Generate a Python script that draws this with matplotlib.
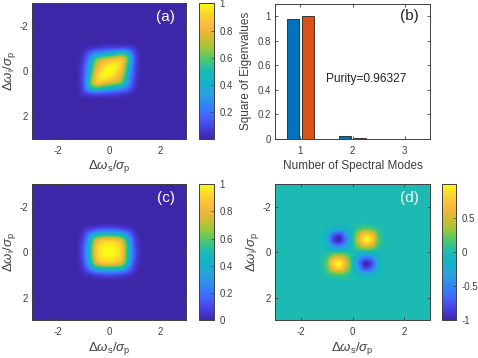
import numpy as np
import matplotlib
matplotlib.use('Agg')
import matplotlib.pyplot as plt
from matplotlib.colors import LinearSegmentedColormap

plt.rcParams.update({
    'font.family': 'Liberation Sans',
    'mathtext.fontset': 'custom',
    'mathtext.rm': 'Liberation Sans',
    'mathtext.it': 'Liberation Sans:italic',
    'mathtext.bf': 'Liberation Sans:bold',
    'axes.unicode_minus': False,
})

# Colour map (MATLAB parula)
parula_colors = ['#3e26a8', '#4740e5', '#4465fd', '#2f87f6', '#2ca1de', '#12b2c9',
                 '#1abab4', '#48c870', '#9ac73c', '#d6bb2f', '#fbb83e', '#f9d32d', '#f9fb15']
parula = LinearSegmentedColormap.from_list('parula', parula_colors, N=256)

# Values read on a 0.25 grid for offsets -1.25 .. 1.25; zero beyond that
jsa = np.array([
    [0, 0, 0, 0, .01, .01, .01, .01, .01, 0, 0],
    [0, .02, .05, .08, .10, .12, .13, .14, .12, .06, 0],
    [0, .05, .18, .30, .37, .43, .48, .55, .42, .12, .01],
    [0, .08, .30, .60, .72, .80, .86, .86, .55, .14, .01],
    [.01, .10, .37, .72, .89, .95, .97, .86, .48, .13, .01],
    [.01, .12, .43, .80, .95, 1.0, .95, .80, .43, .12, .01],
    [.01, .13, .48, .86, .97, .95, .89, .72, .37, .10, .01],
    [.01, .14, .55, .86, .86, .80, .72, .60, .30, .08, 0],
    [.01, .12, .42, .55, .48, .43, .37, .30, .18, .05, 0],
    [0, .06, .12, .14, .13, .12, .10, .08, .05, .02, 0],
    [0, 0, .01, .01, .01, .01, .01, 0, 0, 0, 0],
])
jsa_fit = np.array([
    [0, 0, 0, .01, .01, .01, .01, .01, 0, 0, 0],
    [0, .02, .06, .10, .13, .14, .13, .10, .06, .02, 0],
    [0, .06, .23, .40, .46, .47, .46, .40, .23, .06, 0],
    [.01, .10, .40, .74, .85, .88, .85, .74, .40, .10, .01],
    [.01, .13, .46, .85, .96, .98, .96, .85, .46, .13, .01],
    [.01, .14, .47, .88, .98, 1.0, .98, .88, .47, .14, .01],
    [.01, .13, .46, .85, .96, .98, .96, .85, .46, .13, .01],
    [.01, .10, .40, .74, .85, .88, .85, .74, .40, .10, .01],
    [0, .06, .23, .40, .46, .47, .46, .40, .23, .06, 0],
    [0, .02, .06, .10, .13, .14, .13, .10, .06, .02, 0],
    [0, 0, 0, .01, .01, .01, .01, .01, 0, 0, 0],
])
jsa_diff = np.array([
    [0, 0, -.01, -.02, -.01, 0, .01, .02, .01, 0, 0],
    [0, -.06, -.15, -.20, -.12, 0, .12, .20, .15, .06, 0],
    [-.01, -.15, -.62, -.78, -.42, 0, .42, .78, .62, .15, .01],
    [-.02, -.20, -.80, -.97, -.55, 0, .55, .97, .80, .20, .02],
    [-.01, -.10, -.44, -.55, -.32, 0, .32, .55, .44, .10, .01],
    [0, 0, 0, 0, 0, 0, 0, 0, 0, 0, 0],
    [.01, .10, .44, .55, .32, 0, -.32, -.55, -.44, -.10, -.01],
    [.02, .20, .80, .97, .55, 0, -.55, -.97, -.80, -.20, -.02],
    [.01, .15, .62, .78, .42, 0, -.42, -.78, -.62, -.15, -.01],
    [0, .06, .15, .20, .12, 0, -.12, -.20, -.15, -.06, 0],
    [0, 0, .01, .02, .01, 0, -.01, -.02, -.01, 0, 0],
])

modes = [1, 2, 3]
eig_blue = [0.98, 0.018, 0.001]
eig_orange = [1.0, 0.002, 0.0]
purity_label = 'Purity=0.96327'

W, H = 478, 358
GREY = '#404040'
FS = 7

def box(l, t, r, b):
    return [l / W, 1 - b / H, (r - l) / W, (b - t) / H]

fig = plt.figure(figsize=(W / 100, H / 100), dpi=100)

def style(ax):
    ax.tick_params(direction='in', length=2, width=0.6, colors=GREY, labelsize=FS,
                   top=True, right=True)
    ax.tick_params(axis='x', pad=5)
    ax.tick_params(axis='y', pad=3)
    for s in ax.spines.values():
        s.set_color(GREY)
        s.set_linewidth(0.7)

def heat(axbox, cbox, data, vmin, vmax, cticks, ctlabels, tag):
    ax = fig.add_axes(box(*axbox))
    full = np.pad(data, 7)
    im = ax.imshow(full, cmap=parula, vmin=vmin, vmax=vmax, extent=(-3.125, 3.125, 3.125, -3.125),
                   interpolation='catrom', aspect='auto')
    ax.set_xlim(-3, 3)
    ax.set_ylim(3, -3)
    ax.set_xticks([-2, 0, 2])
    ax.set_yticks([-2, 0, 2])
    style(ax)
    ax.set_xlabel(r'$\Delta\omega_{\rm s}/\sigma_{\rm p}$', fontsize=9.5, color=GREY, labelpad=2)
    ax.set_ylabel(r'$\Delta\omega_{\rm i}/\sigma_{\rm p}$', fontsize=9.5, color=GREY, labelpad=1)
    ax.text(2.2, -2.4, tag, color='white', fontsize=11, ha='center', va='center')
    cax = fig.add_axes(box(*cbox))
    cb = fig.colorbar(im, cax=cax)
    cb.set_ticks(cticks)
    cb.set_ticklabels(ctlabels)
    cax.tick_params(direction='in', length=2, width=0.5, colors=GREY, labelsize=FS, pad=4)
    cb.outline.set_edgecolor(GREY)
    cb.outline.set_linewidth(0.7)

heat((32.3, 3.3, 186.3, 138.7), (199.3, 3.3, 214, 138.7), jsa, 0.005, 1,
     [.2, .4, .6, .8, 1], ['0.2', '0.4', '0.6', '0.8', '1'], '(a)')
heat((32.3, 184, 186.3, 320.3), (199.3, 184, 214, 320.3), jsa_fit, 0, 1,
     [0, .2, .4, .6, .8, 1], ['0', '0.2', '0.4', '0.6', '0.8', '1'], '(c)')
heat((275, 184, 430, 320.3), (441.7, 184, 456.3, 320.3), jsa_diff, -1, 0.99,
     [-1, -.5, 0, .5], ['-1', '-0.5', '0', '0.5'], '(d)')

ax = fig.add_axes(box(275, 4, 430, 138.7))
x = np.array(modes)
ax.bar(x - 0.145, eig_blue, 0.237, color='#0072BD', edgecolor='#222222', linewidth=0.6)
ax.bar(x + 0.145, eig_orange, 0.237, color='#D95319', edgecolor='#222222', linewidth=0.6)
ax.set_xlim(0.51, 3.49)
ax.set_ylim(0, 1.1)
ax.set_xticks(modes)
ax.set_yticks([0, .2, .4, .6, .8, 1], ['0', '0.2', '0.4', '0.6', '0.8', '1'])
style(ax)
ax.set_xlabel('Number of Spectral Modes', fontsize=8.5, color=GREY, labelpad=3)
ax.set_ylabel('Square of Eigenvalues', fontsize=8.5, color=GREY, labelpad=4)
ax.text(1.5, 0.49, purity_label, fontsize=8.6, color='#222222', ha='left', va='center')
ax.text(3.1, 1.0, '(b)', fontsize=11, color='#222222', ha='center', va='center')

fig.savefig('out.png', dpi=100)
